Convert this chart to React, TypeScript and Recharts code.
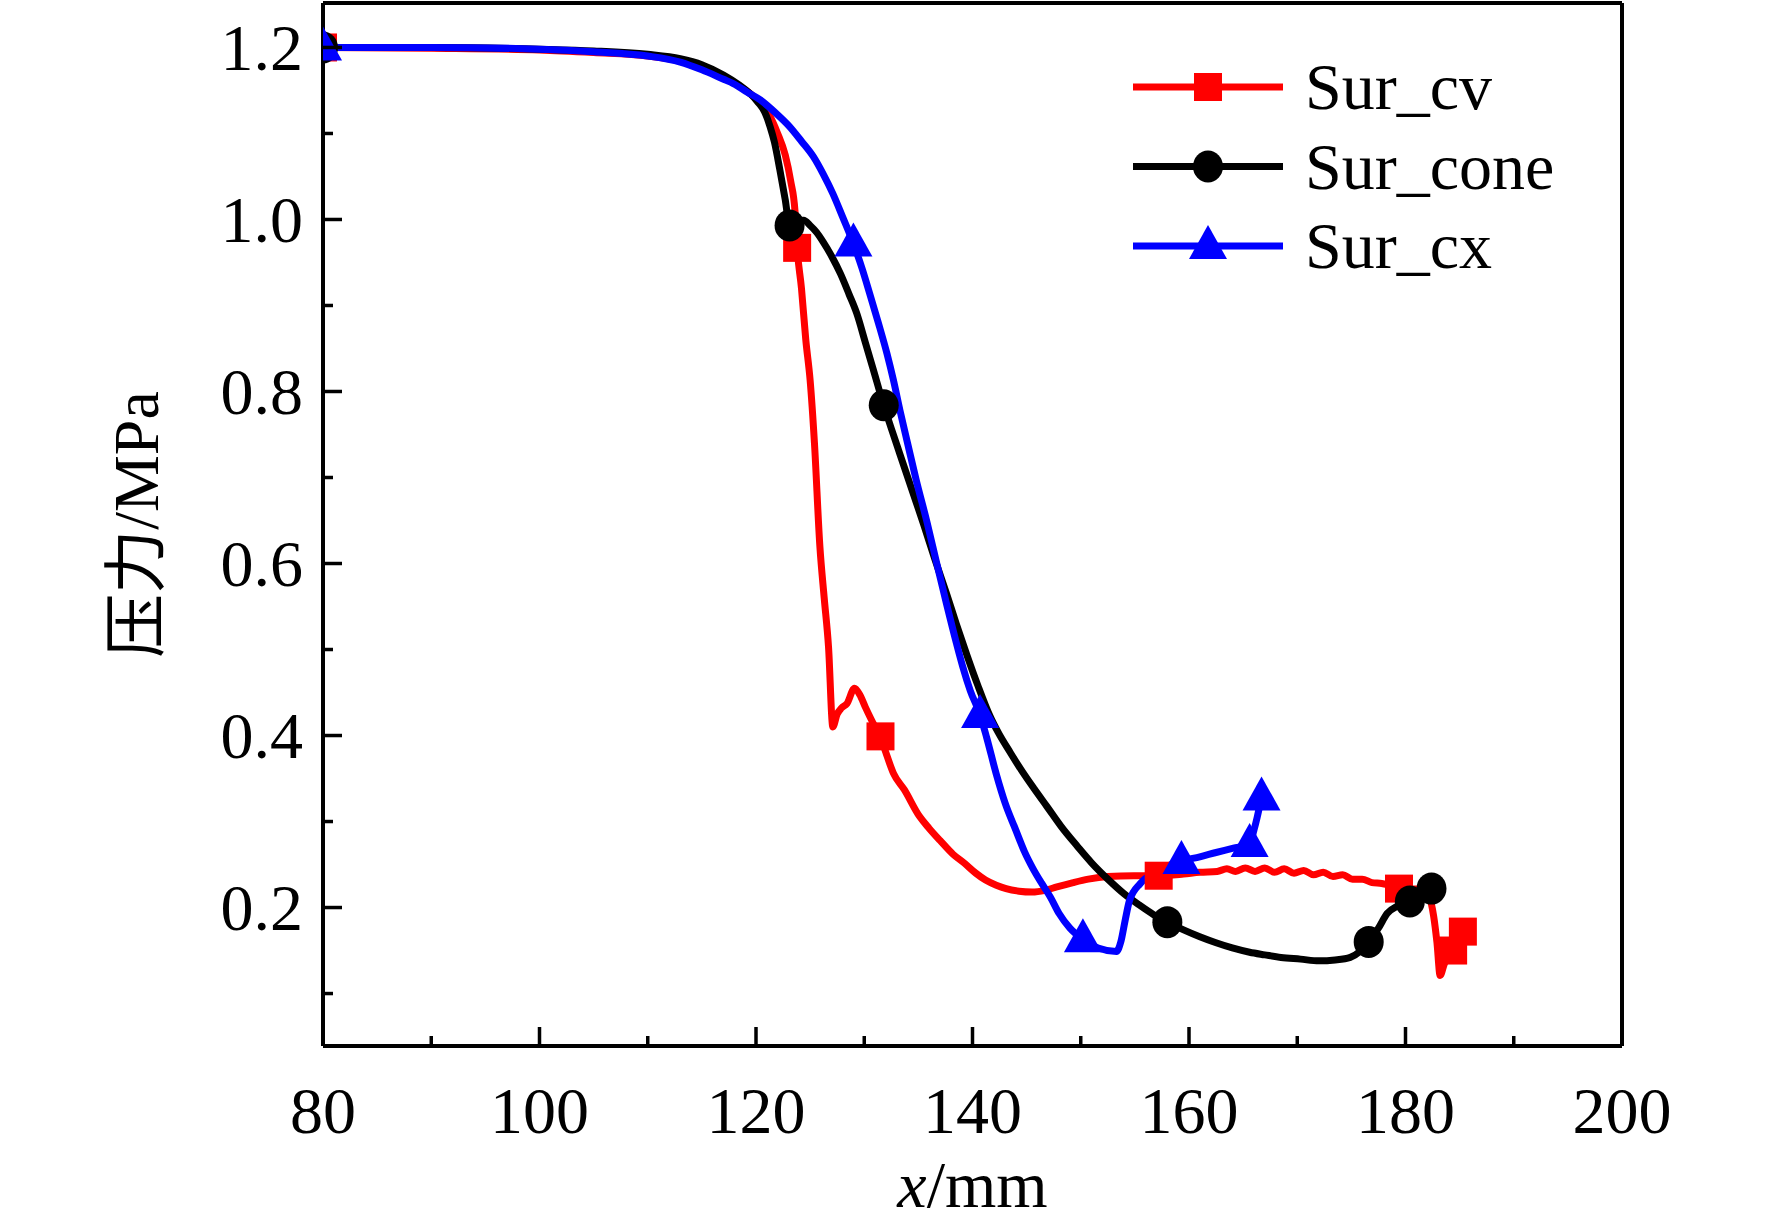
import React from 'react'
import { ComposedChart, Line, Scatter, XAxis, YAxis, Legend, Label } from 'recharts'

// Sur_cv (red squares)
const cvX = [80, 90, 100, 105, 110, 113, 115, 117, 118.5, 119.5, 120.4, 121.2, 122.0, 122.7, 123.2, 123.6, 123.8, 124.2, 124.6, 125.0, 125.4, 125.9, 126.3, 126.7, 127.1, 127.5, 127.9, 128.4, 129.1, 129.6, 130.1, 131.0, 131.5, 132.0, 132.7, 133.7, 135.1, 136.0, 137.0, 138.2, 139.3, 140.3, 141.2, 142.2, 143.1, 144.3, 145.5, 146.7, 147.8, 149.3, 150.7, 152.5, 154.9, 157.2, 159.5, 161.0, 162.6, 163.5, 164.3, 165.2, 166.1, 167.0, 167.9, 168.8, 169.7, 170.6, 171.5, 172.4, 173.3, 174.2, 175.1, 176.0, 176.9, 177.8, 178.6, 179.4, 180.5, 181.5, 182.2, 182.6, 182.9, 183.2, 183.6, 184.0, 184.4, 184.8, 185.3]
const cvY = [1.200, 1.199, 1.197, 1.194, 1.190, 1.184, 1.177, 1.166, 1.155, 1.146, 1.136, 1.122, 1.100, 1.075, 1.045, 1.010, 0.967, 0.920, 0.860, 0.813, 0.740, 0.620, 0.560, 0.503, 0.410, 0.425, 0.432, 0.437, 0.455, 0.447, 0.433, 0.410, 0.399, 0.380, 0.356, 0.337, 0.306, 0.292, 0.278, 0.262, 0.251, 0.240, 0.232, 0.226, 0.222, 0.219, 0.218, 0.220, 0.224, 0.229, 0.233, 0.236, 0.237, 0.237, 0.239, 0.241, 0.242, 0.245, 0.242, 0.246, 0.242, 0.246, 0.241, 0.245, 0.240, 0.243, 0.238, 0.241, 0.236, 0.238, 0.233, 0.233, 0.229, 0.228, 0.226, 0.224, 0.222, 0.221, 0.212, 0.190, 0.160, 0.121, 0.135, 0.143, 0.150, 0.162, 0.172]
const cvMarkX = [80, 123.8, 131.5, 157.2, 179.4, 184.4, 185.3]
const cvMarkY = [1.200, 0.967, 0.399, 0.237, 0.222, 0.150, 0.172]

// Sur_cone (black circles)
const coneX = [80, 90, 100, 105, 110, 113, 115, 117, 118.5, 119.4, 120.2, 120.8, 121.3, 121.7, 122.2, 122.7, 123.1, 123.7, 124.4, 125.0, 125.6, 126.2, 127.0, 127.8, 128.6, 129.3, 130.1, 130.8, 131.8, 132.5, 133.3, 134.4, 135.5, 136.5, 137.6, 138.5, 139.5, 140.5, 141.6, 142.4, 143.5, 144.5, 145.7, 146.9, 148.2, 149.7, 151.0, 152.5, 154.0, 155.4, 156.7, 158.0, 159.5, 161.0, 162.5, 164.0, 165.6, 167.0, 168.5, 170.3, 172.0, 173.5, 174.9, 175.8, 176.6, 177.5, 178.3, 179.3, 180.4, 181.4, 182.4]
const coneY = [1.200, 1.200, 1.198, 1.196, 1.192, 1.187, 1.180, 1.168, 1.156, 1.147, 1.136, 1.125, 1.108, 1.090, 1.058, 1.023, 0.993, 0.998, 0.999, 0.993, 0.985, 0.974, 0.957, 0.937, 0.913, 0.891, 0.857, 0.827, 0.784, 0.757, 0.727, 0.686, 0.645, 0.606, 0.565, 0.530, 0.493, 0.458, 0.423, 0.403, 0.380, 0.360, 0.338, 0.317, 0.294, 0.271, 0.252, 0.233, 0.216, 0.203, 0.192, 0.183, 0.174, 0.166, 0.159, 0.153, 0.148, 0.145, 0.142, 0.140, 0.138, 0.139, 0.142, 0.149, 0.160, 0.176, 0.193, 0.202, 0.207, 0.214, 0.222]
const coneMarkX = [80, 123.1, 131.8, 158.0, 176.6, 180.4, 182.4]
const coneMarkY = [1.200, 0.993, 0.784, 0.183, 0.160, 0.207, 0.222]

// Sur_cx (blue triangles)
const cxX = [80, 90, 100, 105, 110, 113, 115, 117, 117.9, 119.2, 120.4, 121.8, 123.1, 124.2, 125.3, 126.2, 127.1, 128.0, 129.0, 129.8, 130.5, 131.3, 132.1, 132.7, 133.3, 134.0, 134.8, 135.8, 136.7, 137.6, 138.5, 139.1, 139.8, 140.7, 141.3, 142.2, 143.0, 144.0, 144.8, 145.6, 146.4, 147.2, 148.0, 149.0, 150.2, 151.6, 153.3, 153.7, 154.1, 154.5, 155.5, 157.0, 159.3, 161.0, 162.5, 164.1, 165.6, 166.0, 166.3, 166.7]
const cxY = [1.200, 1.200, 1.198, 1.195, 1.190, 1.183, 1.174, 1.163, 1.158, 1.148, 1.139, 1.124, 1.108, 1.091, 1.073, 1.053, 1.030, 1.003, 0.972, 0.943, 0.914, 0.880, 0.844, 0.813, 0.778, 0.740, 0.697, 0.648, 0.600, 0.553, 0.508, 0.480, 0.452, 0.424, 0.398, 0.355, 0.322, 0.290, 0.265, 0.245, 0.228, 0.212, 0.193, 0.176, 0.163, 0.153, 0.149, 0.160, 0.185, 0.208, 0.228, 0.242, 0.254, 0.259, 0.264, 0.269, 0.274, 0.290, 0.305, 0.328]
const cxMarkX = [80, 129.0, 140.7, 150.2, 159.3, 165.6, 166.7]
const cxMarkY = [1.200, 0.972, 0.424, 0.163, 0.254, 0.274, 0.328]

const xTicks = [80, 90, 100, 110, 120, 130, 140, 150, 160, 170, 180, 190, 200]
const yTicks = [0.1, 0.2, 0.3, 0.4, 0.5, 0.6, 0.7, 0.8, 0.9, 1.0, 1.1, 1.2]

const zip = (xs: number[], ys: number[]) => xs.map((x, i) => ({ x, y: ys[i] }))

const FONT = "'Liberation Serif', 'Times New Roman', serif"
const CJK_FONT = "'Liberation Serif', 'Noto Sans CJK SC', serif"

function Square({ cx, cy, fill }: any) {
  return <rect x={cx - 14} y={cy - 14} width={28} height={28} fill={fill} />
}
function Dot({ cx, cy, fill }: any) {
  return <ellipse cx={cx} cy={cy} rx={15} ry={16} fill={fill} />
}
function Tri({ cx, cy, fill }: any) {
  return <polygon points={`${cx},${cy - 21} ${cx - 19},${cy + 13} ${cx + 19},${cy + 13}`} fill={fill} />
}

const series = [
  { name: 'Sur_cv', color: '#ff0000', line: zip(cvX, cvY), marks: zip(cvMarkX, cvMarkY), Shape: Square },
  { name: 'Sur_cone', color: '#000000', line: zip(coneX, coneY), marks: zip(coneMarkX, coneMarkY), Shape: Dot },
  { name: 'Sur_cx', color: '#0000ff', line: zip(cxX, cxY), marks: zip(cxMarkX, cxMarkY), Shape: Tri },
]

function XTick({ x, y, payload }: any) {
  const v = payload.value
  const major = v % 20 === 0
  return (
    <g>
      <line x1={x} x2={x} y1={y} y2={y - (major ? 19 : 10)} stroke="#000" strokeWidth={3.5} />
      {major && (
        <text x={x} y={y + 87} textAnchor="middle" fontFamily={FONT} fontSize={66} fill="#000">
          {v}
        </text>
      )}
    </g>
  )
}

function YTick({ x, y, payload }: any) {
  const v = payload.value
  const major = Math.round(v * 10) % 2 === 0
  return (
    <g>
      <line x1={x} x2={x + (major ? 19 : 10)} y1={y} y2={y} stroke="#000" strokeWidth={3.5} />
      {major && (
        <text x={x - 20} y={y} dy="0.34em" textAnchor="end" fontFamily={FONT} fontSize={66} fill="#000">
          {v.toFixed(1)}
        </text>
      )}
    </g>
  )
}

function YTitle({ viewBox }: any) {
  const cx = viewBox.x + viewBox.width - 187
  const cy = viewBox.y + viewBox.height / 2
  return (
    <text x={cx} y={cy} dy="0.34em" transform={`rotate(-90 ${cx} ${cy})`} textAnchor="middle" fontFamily={CJK_FONT} fontSize={64} fill="#000">
      压力/MPa
    </text>
  )
}

function XTitle({ viewBox }: any) {
  const cx = viewBox.x + viewBox.width / 2
  const cy = viewBox.y + 161
  return (
    <text x={cx} y={cy} textAnchor="middle" fontFamily={FONT} fontSize={66} fill="#000">
      <tspan fontStyle="italic">x</tspan>/mm
    </text>
  )
}

function LegendBox() {
  return (
    <svg width={330} height={250} style={{ display: 'block', overflow: 'visible' }}>
      {series.map((s, i) => {
        const cy = 47 + i * 79.5
        const { Shape } = s
        return (
          <g key={s.name}>
            <line x1={3} x2={153} y1={cy} y2={cy} stroke={s.color} strokeWidth={7} />
            <Shape cx={78} cy={cy} fill={s.color} />
            <text x={175} y={cy} dy="0.34em" fontFamily={FONT} fontSize={66} fill="#000">
              {s.name}
            </text>
          </g>
        )
      })}
    </svg>
  )
}

const AXIS_LINE = { stroke: '#000', strokeWidth: 4 }

export default function App() {
  return (
    <div style={{ position: 'absolute', left: 0, top: 0, width: 1772, height: 1230, background: '#fff' }}>
      <ComposedChart width={1772} height={1230} margin={{ top: 2, right: 149, bottom: 183, left: 322 }}>
        <XAxis
          xAxisId="b"
          type="number"
          dataKey="x"
          domain={[80, 200]}
          ticks={xTicks}
          interval={0}
          allowDataOverflow
          height={1}
          tickSize={0}
          tickMargin={0}
          tickLine={false}
          tick={<XTick />}
          axisLine={AXIS_LINE}
        >
          <Label content={<XTitle />} />
        </XAxis>
        <XAxis xAxisId="t" orientation="top" type="number" dataKey="x" domain={[80, 200]} height={1} tick={false} tickLine={false} axisLine={AXIS_LINE} />
        <YAxis
          yAxisId="l"
          type="number"
          domain={[0.039, 1.2517]}
          ticks={yTicks}
          interval={0}
          allowDataOverflow
          width={1}
          tickSize={0}
          tickMargin={0}
          tickLine={false}
          tick={<YTick />}
          axisLine={AXIS_LINE}
        >
          <Label content={<YTitle />} />
        </YAxis>
        <YAxis yAxisId="r" orientation="right" type="number" domain={[0.039, 1.2517]} width={1} tick={false} tickLine={false} axisLine={AXIS_LINE} />
        {series.flatMap((s) => [
          <Line
            key={s.name + '-line'}
            xAxisId="b"
            yAxisId="l"
            data={s.line}
            dataKey="y"
            type="monotone"
            stroke={s.color}
            strokeWidth={7}
            dot={false}
            activeDot={false}
            isAnimationActive={false}
            legendType="none"
          />,
          <Scatter
            key={s.name + '-marks'}
            xAxisId="b"
            yAxisId="l"
            data={s.marks}
            dataKey="y"
            fill={s.color}
            shape={<s.Shape />}
            isAnimationActive={false}
            legendType="none"
          />,
        ])}
        <Legend
          layout="horizontal"
          verticalAlign="middle"
          align="center"
          content={() => <LegendBox />}
          wrapperStyle={{ left: 1130, top: 40, width: 330, height: 250 }}
        />
      </ComposedChart>
    </div>
  )
}
